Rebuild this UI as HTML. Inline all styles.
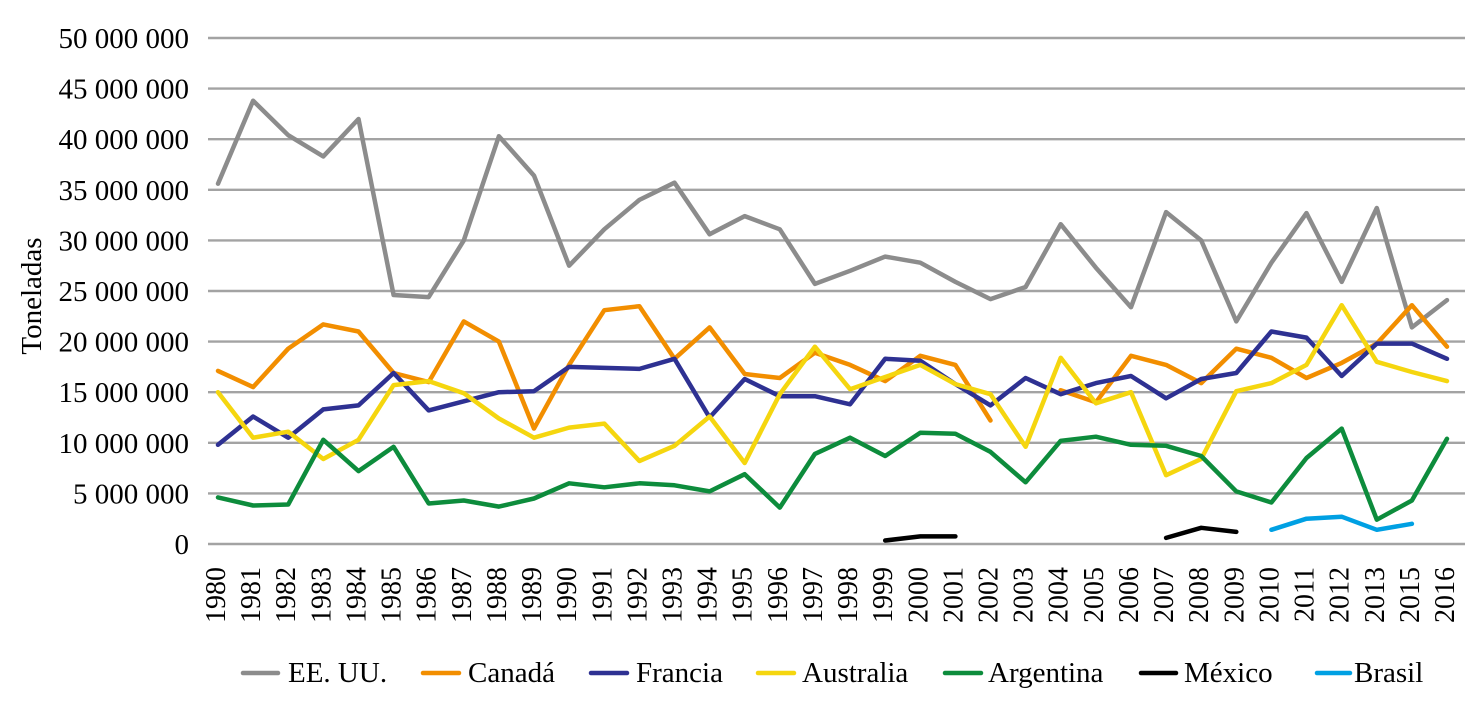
<!DOCTYPE html>
<html lang="es">
<head>
<meta charset="utf-8">
<title>Toneladas por país</title>
<style>
html,body{margin:0;padding:0;background:#fff;width:1475px;height:714px;overflow:hidden}
svg{display:block}
text{font-family:"Liberation Serif",serif;fill:#000}
</style>
</head>
<body>
<svg id="chart" width="1475" height="714" viewBox="0 0 1475 714" xmlns="http://www.w3.org/2000/svg">
  <g id="grid"></g>
  <g id="yticks"></g>
  <g id="xticks"></g>
  <g id="series"></g>
  <text transform="translate(41,296) rotate(-90)" text-anchor="middle" font-size="29">Toneladas</text>
  <g font-size="29">
    <g><line x1="243" x2="278" y1="673" y2="673" stroke="#8c8c8c" stroke-width="4.5" stroke-linecap="round"/><text x="288" y="682">EE. UU.</text></g>
    <g><line x1="423" x2="459" y1="673" y2="673" stroke="#f28e00" stroke-width="4.5" stroke-linecap="round"/><text x="468" y="682">Canadá</text></g>
    <g><line x1="591" x2="627" y1="673" y2="673" stroke="#2e3192" stroke-width="4.5" stroke-linecap="round"/><text x="636" y="682">Francia</text></g>
    <g><line x1="758" x2="794" y1="673" y2="673" stroke="#f5d60f" stroke-width="4.5" stroke-linecap="round"/><text x="802" y="682">Australia</text></g>
    <g><line x1="945" x2="981" y1="673" y2="673" stroke="#0d8c3c" stroke-width="4.5" stroke-linecap="round"/><text x="988" y="682">Argentina</text></g>
    <g><line x1="1141" x2="1176" y1="673" y2="673" stroke="#000" stroke-width="4.5" stroke-linecap="round"/><text x="1184" y="682">México</text></g>
    <g><line x1="1317" x2="1350" y1="673" y2="673" stroke="#00a0e3" stroke-width="4.5" stroke-linecap="round"/><text x="1354" y="682">Brasil</text></g>
  </g>
</svg>
<script>
const years = ["1980","1981","1982","1983","1984","1985","1986","1987","1988","1989","1990","1991","1992","1993","1994","1995","1996","1997","1998","1999","2000","2001","2002","2003","2004","2005","2006","2007","2008","2009","2010","2011","2012","2013","2015","2016"];
const yTicks = [0,5000000,10000000,15000000,20000000,25000000,30000000,35000000,40000000,45000000,50000000];
const yTickLabels = ["0","5 000 000","10 000 000","15 000 000","20 000 000","25 000 000","30 000 000","35 000 000","40 000 000","45 000 000","50 000 000"];
const eeuu = [35.6,43.8,40.4,38.3,42.0,24.6,24.4,30.0,40.3,36.4,27.5,31.1,34.0,35.7,30.6,32.4,31.1,25.7,27.0,28.4,27.8,25.9,24.2,25.4,31.6,27.3,23.4,32.8,30.0,22.0,27.8,32.7,25.9,33.2,21.4,24.1];
const canada = [17.1,15.5,19.3,21.7,21.0,16.9,16.0,22.0,20.0,11.4,17.7,23.1,23.5,18.3,21.4,16.8,16.4,18.9,17.7,16.1,18.6,17.7,12.2,null,15.2,14.0,18.6,17.7,15.9,19.3,18.4,16.4,17.9,19.8,23.6,19.5];
const francia = [9.8,12.6,10.5,13.3,13.7,16.9,13.2,14.1,15.0,15.1,17.5,17.4,17.3,18.3,12.5,16.3,14.6,14.6,13.8,18.3,18.1,15.8,13.7,16.4,14.8,15.9,16.6,14.4,16.3,16.9,21.0,20.4,16.6,19.8,19.8,18.3];
const australia = [15.0,10.5,11.1,8.4,10.3,15.7,16.1,14.9,12.4,10.5,11.5,11.9,8.2,9.7,12.6,8.0,14.8,19.5,15.3,16.5,17.7,15.8,14.8,9.6,18.4,13.9,15.0,6.8,8.4,15.1,15.9,17.7,23.6,18.0,17.0,16.1];
const argentina = [4.6,3.8,3.9,10.3,7.2,9.6,4.0,4.3,3.7,4.5,6.0,5.6,6.0,5.8,5.2,6.9,3.6,8.9,10.5,8.7,11.0,10.9,9.1,6.1,10.2,10.6,9.8,9.7,8.7,5.2,4.1,8.5,11.4,2.4,4.3,10.4];
const mexico = [null,null,null,null,null,null,null,null,null,null,null,null,null,null,null,null,null,null,null,0.35,0.75,0.75,null,null,null,null,null,0.6,1.6,1.2,null,null,null,null,null,null];
const brasil = [null,null,null,null,null,null,null,null,null,null,null,null,null,null,null,null,null,null,null,null,null,null,null,null,null,null,null,null,null,null,1.4,2.5,2.7,1.4,2.0,null];

const NS = "http://www.w3.org/2000/svg";
const xScale = i => 218 + i * (1447 - 218) / (years.length - 1);
const yScale = v => 544 - v * 506 / 50000000;
const gridG = document.getElementById("grid");
const yG = document.getElementById("yticks");
const xG = document.getElementById("xticks");
const seriesG = document.getElementById("series");

yTicks.forEach((t, i) => {
  const l = document.createElementNS(NS, "line");
  
  
  l.setAttribute("x1", 208); l.setAttribute("x2", 1465);
  l.setAttribute("y1", yScale(t)); l.setAttribute("y2", yScale(t));
  l.setAttribute("stroke", "#a3a3a3"); l.setAttribute("stroke-width", 2.4);
  gridG.appendChild(l);
  const tx = document.createElementNS(NS, "text");
  
  
  tx.setAttribute("x", 189); tx.setAttribute("y", yScale(t) + 10);
  tx.setAttribute("text-anchor", "end"); tx.setAttribute("font-size", 29);
  tx.textContent = yTickLabels[i];
  yG.appendChild(tx);
});

years.forEach((yr, i) => {
  const tx = document.createElementNS(NS, "text");
  
  
  tx.setAttribute("transform", "translate(" + (xScale(i) + 7) + ",567) rotate(-90)");
  tx.setAttribute("text-anchor", "end"); tx.setAttribute("font-size", 28);
  tx.textContent = yr;
  xG.appendChild(tx);
});

function drawSeries(values, color, label) {
  const p = document.createElementNS(NS, "path");
  let d = "", pen = false;
  values.forEach((v, i) => {
    if (v === null) { pen = false; return; }
    d += (pen ? "L" : "M") + xScale(i).toFixed(1) + " " + yScale(v * 1000000).toFixed(1);
    pen = true;
  });
  
  
  p.setAttribute("d", d);
  p.setAttribute("fill", "none");
  p.setAttribute("stroke", color);
  p.setAttribute("stroke-width", 4.5);
  p.setAttribute("stroke-linejoin", "round");
  p.setAttribute("stroke-linecap", "round");
  seriesG.appendChild(p);
}
drawSeries(eeuu, "#8c8c8c", "series-ee-uu");
drawSeries(canada, "#f28e00", "series-canada");
drawSeries(francia, "#2e3192", "series-francia");
drawSeries(australia, "#f5d60f", "series-australia");
drawSeries(argentina, "#0d8c3c", "series-argentina");
drawSeries(mexico, "#000000", "series-mexico");
drawSeries(brasil, "#00a0e3", "series-brasil");
</script>
</body>
</html>
